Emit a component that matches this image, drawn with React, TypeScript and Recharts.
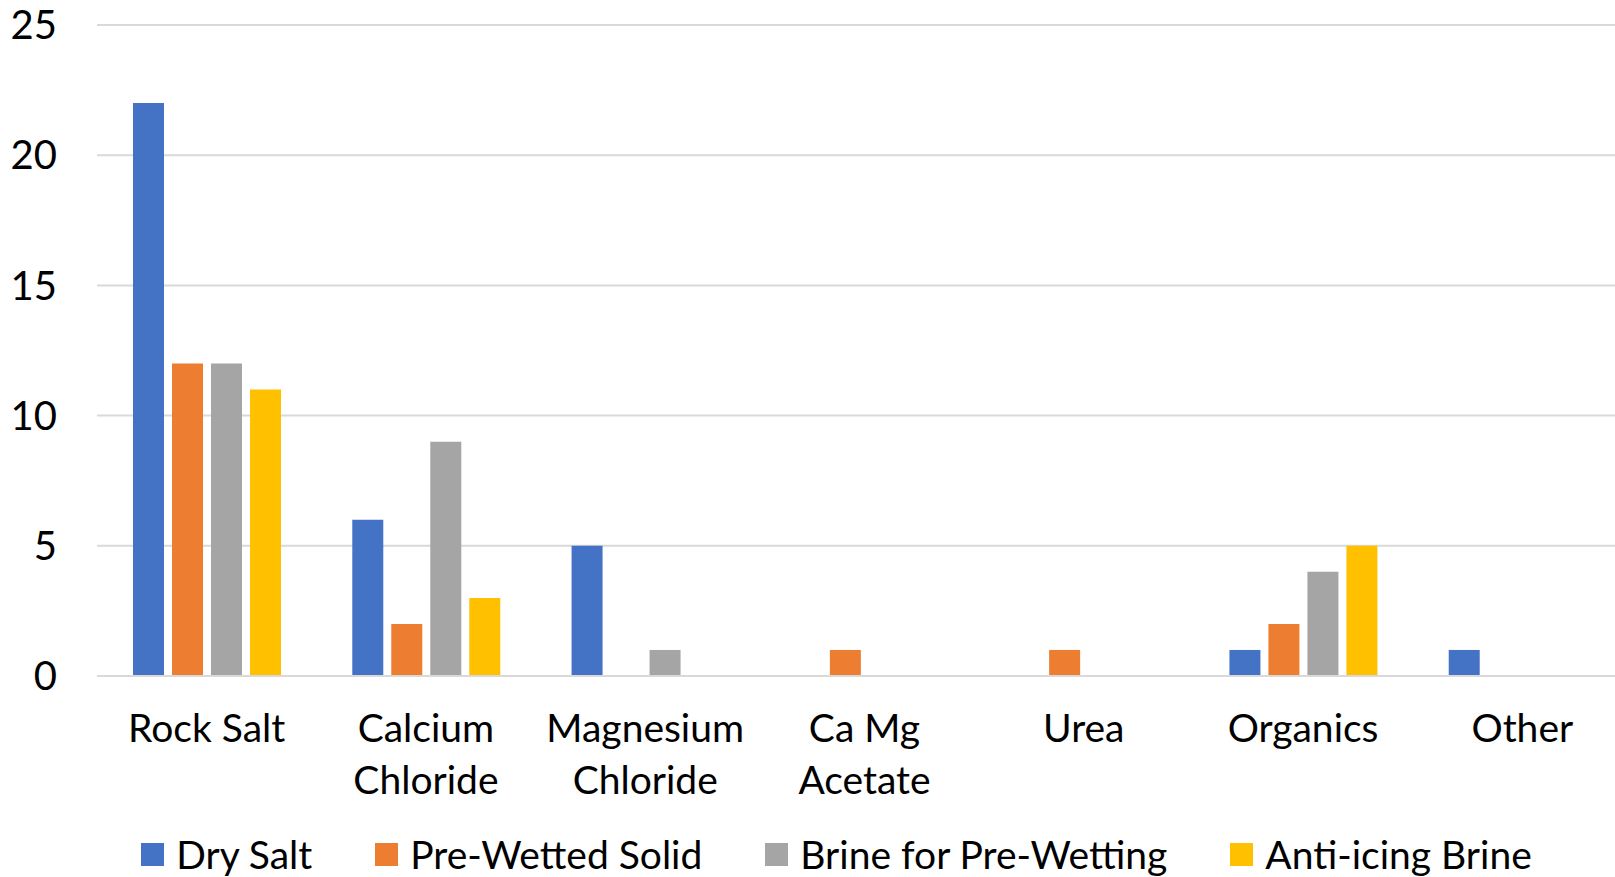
import { Bar, BarChart, CartesianGrid, Legend, XAxis, YAxis } from "recharts";

const categories = ["Rock Salt", "Calcium Chloride", "Magnesium Chloride", "Ca Mg Acetate", "Urea", "Organics", "Other"];
const drySalt = [22, 6, 5, 0, 0, 1, 1];
const preWettedSolid = [12, 2, 0, 1, 1, 2, 0];
const brineForPreWetting = [12, 9, 1, 0, 0, 4, 0];
const antiIcingBrine = [11, 3, 0, 0, 0, 5, 0];
const yTicks = [0, 5, 10, 15, 20, 25];

const series = [
  { key: "dry", name: "Dry Salt", color: "#4472C4" },
  { key: "pre", name: "Pre-Wetted Solid", color: "#ED7D31" },
  { key: "brine", name: "Brine for Pre-Wetting", color: "#A5A5A5" },
  { key: "anti", name: "Anti-icing Brine", color: "#FFC000" },
];

const data = categories.map((name, i) => ({
  name,
  dry: drySalt[i],
  pre: preWettedSolid[i],
  brine: brineForPreWetting[i],
  anti: antiIcingBrine[i],
}));

const FONT = "Lato, 'Open Sans', sans-serif";
const FS = 39;

let ctx: CanvasRenderingContext2D | null = null;
function textWidth(s: string) {
  if (!ctx) ctx = document.createElement("canvas").getContext("2d");
  if (!ctx) return s.length * FS * 0.5;
  ctx.font = `${FS}px Lato`;
  return ctx.measureText(s).width;
}

// greedy word wrap, like the category axis in the original
function wrap(label: string, maxW: number) {
  const lines: string[] = [];
  let cur = "";
  for (const w of label.split(" ")) {
    const next = cur ? cur + " " + w : w;
    if (cur && textWidth(next) > maxW) {
      lines.push(cur);
      cur = w;
    } else cur = next;
  }
  if (cur) lines.push(cur);
  return lines;
}

const CategoryTick = (props: any) => {
  const { x, y, payload } = props;
  const lines = wrap(String(payload.value), 205);
  return (
    <text x={x} y={y} textAnchor="middle" fill="#000" fontSize={FS} fontFamily={FONT}>
      {lines.map((l, i) => (
        <tspan key={i} x={x} y={y + 58 + i * 52}>
          {l}
        </tspan>
      ))}
    </text>
  );
};

const LegendContent = () => (
  <div style={{ display: "flex", justifyContent: "center", alignItems: "center", gap: 63, fontFamily: FONT, fontSize: FS, color: "#000" }}>
    {series.map((s) => (
      <div key={s.key} style={{ display: "flex", alignItems: "center", gap: 12, whiteSpace: "nowrap" }}>
        <span style={{ width: 23, height: 23, background: s.color, display: "inline-block" }} />
        <span>{s.name}</span>
      </div>
    ))}
  </div>
);

export default function App() {
  return (
    <div style={{ position: "absolute", top: 0, left: 0, width: 1615, height: 877, background: "#fff", overflow: "hidden" }}>
      <BarChart
        width={1615}
        height={877}
        data={data}
        margin={{ top: 25, right: -17, bottom: 81, left: 0 }}
        barGap={8}
        barSize={31}
        style={{ overflow: "hidden" }}
      >
        <CartesianGrid vertical={false} stroke="#D9D9D9" strokeWidth={2} />
        <XAxis
          dataKey="name"
          interval={0}
          tickLine={false}
          axisLine={{ stroke: "#D9D9D9", strokeWidth: 2 }}
          height={120}
          tick={<CategoryTick />}
        />
        <YAxis
          domain={[0, 25]}
          ticks={yTicks}
          width={97}
          axisLine={false}
          tickLine={false}
          tickSize={0}
          tickMargin={40}
          tick={{ fill: "#000", fontSize: FS + 1, fontFamily: FONT }}
        />
        <Legend verticalAlign="middle" content={<LegendContent />} wrapperStyle={{ top: 831, left: 29, width: 1615 }} />
        {series.map((s) => (
          <Bar key={s.key} dataKey={s.key} name={s.name} fill={s.color} isAnimationActive={false} />
        ))}
      </BarChart>
    </div>
  );
}
